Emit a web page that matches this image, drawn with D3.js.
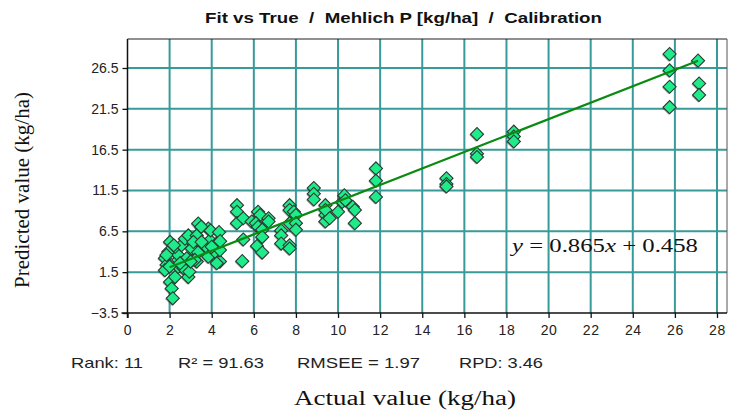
<!doctype html>
<html lang="en">
<head>
<meta charset="utf-8">
<title>Fit vs True - Mehlich P</title>
<style>
html, body {
	margin: 0;
	padding: 0;
	background: #fff;
}
svg text {
	font-family: 'Liberation Sans', Arial, sans-serif;
}
.serif {
	font-family: 'Liberation Serif', 'Times New Roman', serif;
}
</style>
</head>
<body>
<div id="chart"></div>
<script src="https://cdn.jsdelivr.net/npm/d3@7"></script>
<script>
(function () {
	'use strict';

	/* DATA */

	var actual = [
		2.02, 1.94, 1.78, 1.86, 1.78, 2.02, 2.10, 2.15, 2.26, 2.41,
		2.41, 2.41, 2.26, 2.57, 2.73, 2.89, 2.81, 2.65, 2.89, 2.94,
		3.36, 3.29, 3.84, 3.92, 3.68, 3.36, 3.29, 3.84, 4.16, 4.31,
		4.39, 4.24, 4.39, 4.00, 3.05, 3.13, 3.52, 3.95, 4.35, 4.40,
		3.50, 3.35, 2.00, 2.20, 2.50, 1.85, 3.20, 3.00,
		5.20, 5.20, 5.20, 5.50, 5.50, 5.45, 5.90, 6.20, 6.30, 6.10,
		6.20, 6.40, 6.40, 6.15, 6.40, 6.70, 6.70, 7.30, 7.30, 7.30,
		7.70, 7.70, 7.90, 7.70, 8.00, 8.00, 8.00, 7.70, 7.70,
		8.85, 8.85, 8.85, 9.40, 9.40, 9.40, 9.40, 10.0, 10.2, 10.3,
		10.35, 10.7, 10.8, 10.8, 9.60,
		11.8, 11.8, 11.8, 15.15, 15.15, 15.15, 16.6, 16.6, 16.6,
		18.35, 18.35, 18.35, 25.75, 25.75, 25.75, 25.75, 27.1, 27.15, 27.15
	];

	var predicted = [
		5.2, 4.0, 3.2, 2.4, 1.75, 0.3, -0.5, -1.7, 0.9, 3.0,
		3.6, 2.15, 4.6, 4.8, 5.6, 6.0, 3.2, 2.0, 0.9, 1.55,
		7.45, 6.0, 6.85, 5.4, 4.4, 4.0, 2.8, 3.4, 4.0, 5.2,
		2.8, 2.6, 4.2, 4.6, 4.4, 5.2, 5.2, 6.6, 6.4, 5.3,
		7.05, 3.9, 2.2, 4.8, 2.6, 3.6, 3.0, 2.8,
		9.7, 8.9, 7.5, 8.1, 5.5, 2.85, 7.7, 8.9, 8.5, 7.5,
		7.05, 6.7, 5.8, 4.7, 3.9, 8.1, 7.7, 6.6, 6.0, 5.0,
		9.7, 9.1, 8.9, 7.5, 8.5, 7.5, 6.7, 4.8, 4.4,
		11.8, 11.1, 10.4, 9.7, 8.5, 7.7, 9.1, 8.9, 10.1, 10.9,
		10.3, 9.5, 9.1, 7.5, 8.1,
		14.2, 12.7, 10.7, 13.0, 12.3, 12.0, 18.4, 16.0, 15.6,
		18.7, 18.1, 17.5, 28.2, 26.2, 24.2, 21.7, 27.4, 24.6, 23.2
	];

	// drawn fit line, ends in data units
	var fitX = [2.0, 27.1];
	var fitY = [2.1, 27.4];

	var xTicks = [0, 2, 4, 6, 8, 10, 12, 14, 16, 18, 20, 22, 24, 26, 28];
	var yTicks = [-3.5, 1.5, 6.5, 11.5, 16.5, 21.5, 26.5];

	var titleText = 'Fit vs True  /  Mehlich P [kg/ha]  /  Calibration';
	var statLabels = ['Rank: 11', 'R\u00b2 = 91.63', 'RMSEE = 1.97', 'RPD: 3.46'];

	/* LAYOUT */

	var W = 730, H = 413;
	var L = 127.5, R = 727, T = 39, B = 313;

	var x = d3.scaleLinear().domain([0, 28]).range([L, 717]);
	var y = d3.scaleLinear().domain([-3.5, 26.5]).range([B, 68]);

	var svg = d3.select('#chart').append('svg')
		.attr('width', W)
		.attr('height', H);

	/* GRID */

	var grid = svg.append('g');
	grid.selectAll('line.vx')
		.data(xTicks.filter(function (d) { return d > 0; }))
		.enter().append('line')
		.attr('x1', x).attr('x2', x)
		.attr('y1', T).attr('y2', B)
		.attr('stroke', '#399a9a')
		.attr('stroke-width', 2);
	grid.selectAll('line.hy')
		.data(yTicks.filter(function (d) { return d > -3.5; }))
		.enter().append('line')
		.attr('y1', y).attr('y2', y)
		.attr('x1', L).attr('x2', R)
		.attr('stroke', '#399a9a')
		.attr('stroke-width', 2);

	// frame
	svg.append('line').attr('x1', L).attr('x2', R).attr('y1', T).attr('y2', T)
		.attr('stroke', '#222').attr('stroke-width', 1.2);
	svg.append('line').attr('x1', R).attr('x2', R).attr('y1', T).attr('y2', B)
		.attr('stroke', '#555').attr('stroke-width', 1);

	/* AXES */

	var xAxis = svg.append('g')
		.attr('transform', 'translate(0,' + B + ')')
		.call(d3.axisBottom(x).tickValues(xTicks).tickSize(5).tickPadding(7)
			.tickFormat(d3.format('d')));
	var yAxis = svg.append('g')
		.attr('transform', 'translate(' + L + ',0)')
		.call(d3.axisLeft(y).tickValues(yTicks).tickSize(5).tickPadding(4)
			.tickFormat(d3.format('.1f')));

	xAxis.select('.domain').remove();
	yAxis.select('.domain').remove();
	svg.append('line').attr('x1', L - 6).attr('x2', R).attr('y1', B).attr('y2', B)
		.attr('stroke', '#111').attr('stroke-width', 1.5);
	svg.append('line').attr('x1', L).attr('x2', L).attr('y1', T).attr('y2', B + 5)
		.attr('stroke', '#111').attr('stroke-width', 1.5);

	[xAxis, yAxis].forEach(function (a) {
		a.selectAll('.tick line').attr('stroke', '#111').attr('stroke-width', 1.3);
		a.selectAll('.tick text')
			.attr('fill', '#222')
			.style('font-size', '14px')
			.style('font-family', "'Liberation Sans', Arial, sans-serif");
	});
	xAxis.selectAll('.tick text').style('letter-spacing', '0.6px');

	/* POINTS */

	var pts = actual.map(function (d, i) { return { x: d, y: predicted[i] }; });
	var diamond = d3.symbol().type(d3.symbolSquare).size(86)();

	svg.append('g').selectAll('path.sh')
		.data(pts).enter().append('path')
		.attr('d', diamond)
		.attr('transform', function (d) {
			return 'translate(' + (x(d.x) - 1) + ',' + (y(d.y) + 1) + ') rotate(45)';
		})
		.attr('fill', '#333')
		.attr('opacity', 0.45);

	svg.append('g').selectAll('path.pt')
		.data(pts).enter().append('path')
		.attr('d', diamond)
		.attr('transform', function (d) {
			return 'translate(' + x(d.x) + ',' + y(d.y) + ') rotate(45)';
		})
		.attr('fill', '#1eec8a')
		.attr('stroke', '#2b3a33')
		.attr('stroke-width', 1.1);

	/* FIT LINE (drawn over the points) */

	svg.append('line')
		.attr('x1', x(fitX[0])).attr('y1', y(fitY[0]))
		.attr('x2', x(fitX[1])).attr('y2', y(fitY[1]))
		.attr('stroke', '#0b8a12')
		.attr('stroke-width', 2.2);

	/* TEXT */

	svg.append('text')
		.attr('x', 205).attr('y', 23)
		.attr('textLength', 397)
		.attr('lengthAdjust', 'spacingAndGlyphs')
		.style('white-space', 'pre')
		.style('font-weight', 'bold')
		.style('font-size', '15px')
		.attr('fill', '#111')
		.text(titleText);

	var statX = [71, 178, 297, 459];
	var statW = [72, 86, 123, 84];
	svg.append('g').selectAll('text')
		.data(statLabels).enter().append('text')
		.attr('x', function (d, i) { return statX[i]; })
		.attr('y', 368)
		.attr('textLength', function (d, i) { return statW[i]; })
		.attr('lengthAdjust', 'spacingAndGlyphs')
		.style('font-size', '14.5px')
		.attr('fill', '#222')
		.text(function (d) { return d; });

	svg.append('text')
		.attr('class', 'serif')
		.attr('x', 294).attr('y', 405)
		.attr('textLength', 222)
		.attr('lengthAdjust', 'spacingAndGlyphs')
		.style('font-size', '20px')
		.attr('fill', '#111')
		.text('Actual value (kg/ha)');

	svg.append('text')
		.attr('class', 'serif')
		.attr('transform', 'translate(29,190) rotate(-90)')
		.attr('text-anchor', 'middle')
		.style('font-size', '21px')
		.attr('fill', '#111')
		.text('Predicted value (kg/ha)');

	var eq = svg.append('text')
		.attr('class', 'serif')
		.attr('x', 512).attr('y', 252)
		.attr('textLength', 186)
		.attr('lengthAdjust', 'spacingAndGlyphs')
		.style('font-size', '19px')
		.style('white-space', 'pre')
		.attr('fill', '#111');
	eq.append('tspan').style('font-style', 'italic').text('y');
	eq.append('tspan').text(' = 0.865');
	eq.append('tspan').style('font-style', 'italic').text('x');
	eq.append('tspan').text(' + 0.458');
})();
</script>
</body>
</html>
